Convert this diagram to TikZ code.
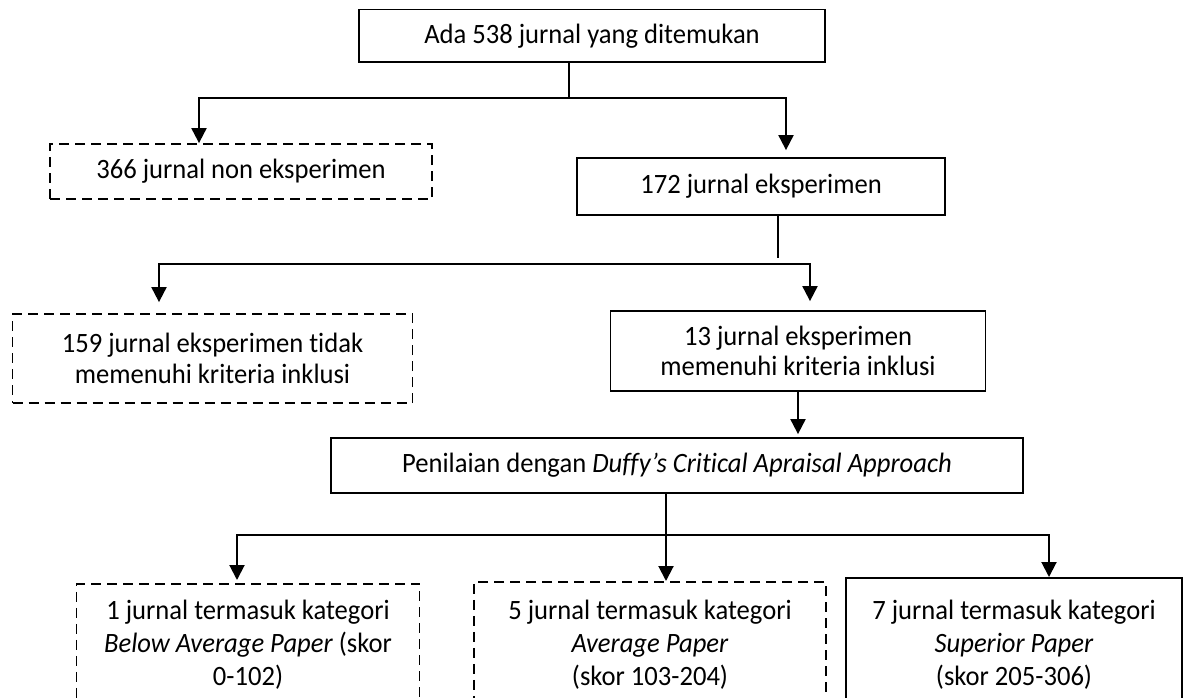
\documentclass[tikz,border=0pt]{standalone}
\usepackage{fontspec}
\setmainfont{Carlito}[FakeStretch=0.95,Ligatures=NoCommon]
\usepackage{tikz}
\usetikzlibrary{arrows.meta,positioning}

\begin{document}
\begin{tikzpicture}
	[x=1pt,y=-1pt,
	box/.style={draw=black,line width=1.8pt,inner sep=0pt,align=center,
		font=\fontsize{28}{30.5}\selectfont},
	dbox/.style={box,dash pattern=on 10pt off 6pt},
	kat/.style={font=\fontsize{28}{33}\selectfont,anchor=north},
	line/.style={black,line width=2pt},
	stem/.style={black,line width=1.3pt},
	arr/.style={line,-{Triangle[width=15pt,length=15pt]}}]
	\useasboundingbox (0,0) rectangle (1186,697);
	%---------------------kotak-kotak------------
	\node (ada) at (592,35.75) [box,minimum width=466pt,minimum height=52.5pt] {Ada 538 jurnal yang ditemukan};
	\node (non) at (241,171.5) [dbox,minimum width=382pt,minimum height=55pt] {366 jurnal non eksperimen};
	\node (eks) at (761,186.5) [box,minimum width=368pt,minimum height=57pt] {172 jurnal eksperimen};
	\node (tidak) at (212.5,358.5) [dbox,minimum width=400pt,minimum height=89pt] {159 jurnal eksperimen tidak\\memenuhi kriteria inklusi};
	\node (inkl) at (798,351) [box,minimum width=375pt,minimum height=80pt] {13 jurnal eksperimen\\memenuhi kriteria inklusi};
	\node (nilai) at (677,465.5) [box,minimum width=692pt,minimum height=55pt] {Penilaian dengan \textit{Duffy’s Critical Apraisal Approach}};
	% kategori (terpotong di bawah)
	\node (below) at (248,583) [dbox,kat,minimum width=343pt,minimum height=122pt] {1 jurnal termasuk kategori\\\textit{Below Average Paper} (skor\\0-102)};
	\node (avg) at (650,581) [dbox,kat,minimum width=352pt,minimum height=126pt] {5 jurnal termasuk kategori\\\textit{Average Paper}\\(skor 103-204)};
	\node (sup) at (1014,577) [box,kat,minimum width=336pt,minimum height=134pt] {7 jurnal termasuk kategori\\\textit{Superior Paper}\\(skor 205-306)};
	
	%---------------------cabang pertama------------
	\coordinate (j1) at (569,98);
	\coordinate (j1l) at (199,98);
	\coordinate (j1r) at (786,98);
	\draw[stem] (ada.south -| j1) -- (j1);
	\draw[arr] (j1) -- (j1l) -- (j1l |- non.north);
	\draw[arr,shorten >=7pt] (j1) -- (j1r) -- (j1r |- eks.north);
	
	%---------------------cabang kedua------------
	\coordinate (j2) at (778,264);
	\coordinate (j2l) at (159,264);
	\coordinate (j2r) at (810,264);
	\draw[stem,shorten >=6pt] (eks.south -| j2) -- (j2);
	\draw[arr,shorten >=11pt] (j2) -- (j2l) -- (j2l |- tidak.north);
	\draw[arr,shorten >=9pt] (j2) -- (j2r) -- (j2r |- inkl.north);
	\draw[arr,shorten >=3pt] (inkl.south) -- (inkl.south |- nilai.north);
	
	%---------------------cabang ketiga------------
	\coordinate (j3) at (666,535);
	\coordinate (j3l) at (237,535);
	\coordinate (j3r) at (1049,535);
	\draw[stem] (nilai.south -| j3) -- (j3);
	\draw[arr,shorten >=3pt] (j3) -- (j3l) -- (j3l |- below.north);
	\draw[arr] (j3) -- (j3 |- avg.north);
	\draw[arr] (j3) -- (j3r) -- (j3r |- sup.north);
\end{tikzpicture}
\end{document}
